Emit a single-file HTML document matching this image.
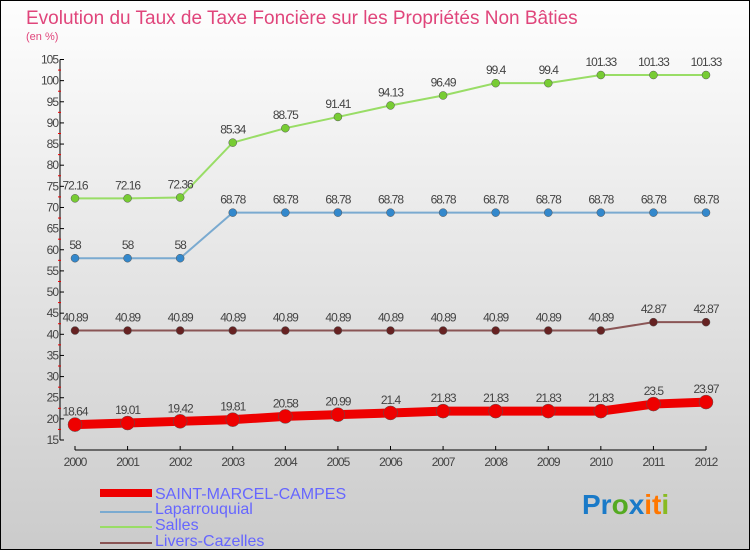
<!DOCTYPE html>
<html><head><meta charset="utf-8"><style>
body{margin:0;width:750px;height:550px;overflow:hidden}
svg{display:block;font-family:"Liberation Sans",sans-serif}
</style></head><body>
<svg width="750" height="550">
<defs><linearGradient id="bg" x1="0" y1="0" x2="0" y2="1"><stop offset="0" stop-color="#fefefe"/><stop offset="1" stop-color="#cbcbcb"/></linearGradient></defs>
<rect x="0.5" y="0.5" width="749" height="549" fill="url(#bg)" stroke="#000"/>
<text x="26" y="24" font-size="19" fill="#e0457b">Evolution du Taux de Taxe Foncière sur les Propriétés Non Bâties</text>
<text x="26" y="40" font-size="11" fill="#e0457b">(en %)</text>
<g id="axes"></g>
<g id="series"></g>
<g>
<rect x="100" y="489" width="52" height="8" fill="#e00"/>
<text x="155" y="499" font-size="16" fill="#6666ff">SAINT-MARCEL-CAMPES</text>
<rect x="100" y="511" width="52" height="2" fill="#7aaad0"/>
<text x="155" y="514" font-size="16" fill="#6666ff">Laparrouquial</text>
<rect x="100" y="526" width="52" height="2" fill="#99dd66"/>
<text x="155" y="530" font-size="16" fill="#6666ff">Salles</text>
<rect x="100" y="542" width="52" height="2" fill="#8a5555"/>
<text x="155" y="546" font-size="16" fill="#6666ff">Livers-Cazelles</text>
</g>
<text x="582" y="514" font-size="28" font-weight="bold"><tspan fill="#1a7ac8">Pr</tspan><tspan fill="#55aa22">o</tspan><tspan fill="#1a7ac8">x</tspan><tspan fill="#ff7700">it</tspan><tspan fill="#88bb22">i</tspan></text>
</svg>
<script>
const years=[2000,2001,2002,2003,2004,2005,2006,2007,2008,2009,2010,2011,2012];
const saint=[18.64,19.01,19.42,19.81,20.58,20.99,21.4,21.83,21.83,21.83,21.83,23.5,23.97];
const lapar=[58,58,58,68.78,68.78,68.78,68.78,68.78,68.78,68.78,68.78,68.78,68.78];
const salles=[72.16,72.16,72.36,85.34,88.75,91.41,94.13,96.49,99.4,99.4,101.33,101.33,101.33];
const livers=[40.89,40.89,40.89,40.89,40.89,40.89,40.89,40.89,40.89,40.89,40.89,42.87,42.87];
const yTicks=[15,20,25,30,35,40,45,50,55,60,65,70,75,80,85,90,95,100,105];
const NS="http://www.w3.org/2000/svg";
const x=i=>75+i*(706-75)/(years.length-1);
const y=v=>440-(v-15)*(380.5/90);
function mk(tag,attrs,parent,txt){const e=document.createElementNS(NS,tag);for(const k in attrs)e.setAttribute(k,attrs[k]);if(txt!==undefined)e.textContent=txt;parent.appendChild(e);return e;}
const ax=document.getElementById('axes');
let a=mk('line',{x1:60,y1:y(105),x2:60,y2:y(15),stroke:'#000'},ax);


a=mk('line',{x1:x(0),y1:450,x2:x(12),y2:450,stroke:'#000'},ax);


yTicks.forEach(t=>{
  mk('line',{x1:60,y1:y(t),x2:64,y2:y(t),stroke:'#000'},ax);
  if(t<105) mk('line',{x1:58,y1:y(t+2.5),x2:61,y2:y(t+2.5),stroke:'#e00'},ax);
  const l=mk('text',{x:58,y:y(t)+4,'font-size':12,'text-anchor':'end',fill:'#444','letter-spacing':'-1'},ax,t);
  
  
});
years.forEach((yr,i)=>{
  mk('line',{x1:x(i),y1:446,x2:x(i),y2:450,stroke:'#000'},ax);
  const l=mk('text',{x:x(i),y:466,'font-size':12,'text-anchor':'middle',fill:'#444','letter-spacing':'-1'},ax,yr);
  
  
});
const sg=document.getElementById('series');
function series(vals,color,w,r,dot,name){
  const g=mk('g',{},sg);
  
  
  mk('polyline',{points:vals.map((v,i)=>x(i)+','+y(v)).join(' '),fill:'none',stroke:color,'stroke-width':w},g);
  vals.forEach((v,i)=>{
    const c=mk('circle',{cx:x(i),cy:y(v),r:r,fill:dot,stroke:'#555','stroke-width':0.5},g);
    
    
    const t=mk('text',{x:x(i),y:y(v)-9,'font-size':12,'text-anchor':'middle',fill:'#444','letter-spacing':'-1'},g,v);
    
    
  });
}
series(salles,'#99dd66',2,4,'#77cc33','salles');
series(lapar,'#7aaad0',2,4,'#3388cc','laparrouquial');
series(livers,'#8a5555',2,4,'#662222','livers-cazelles');
series(saint,'#ee0000',9,7,'#ee0000','saint-marcel-campes');
</script>
</body></html>
